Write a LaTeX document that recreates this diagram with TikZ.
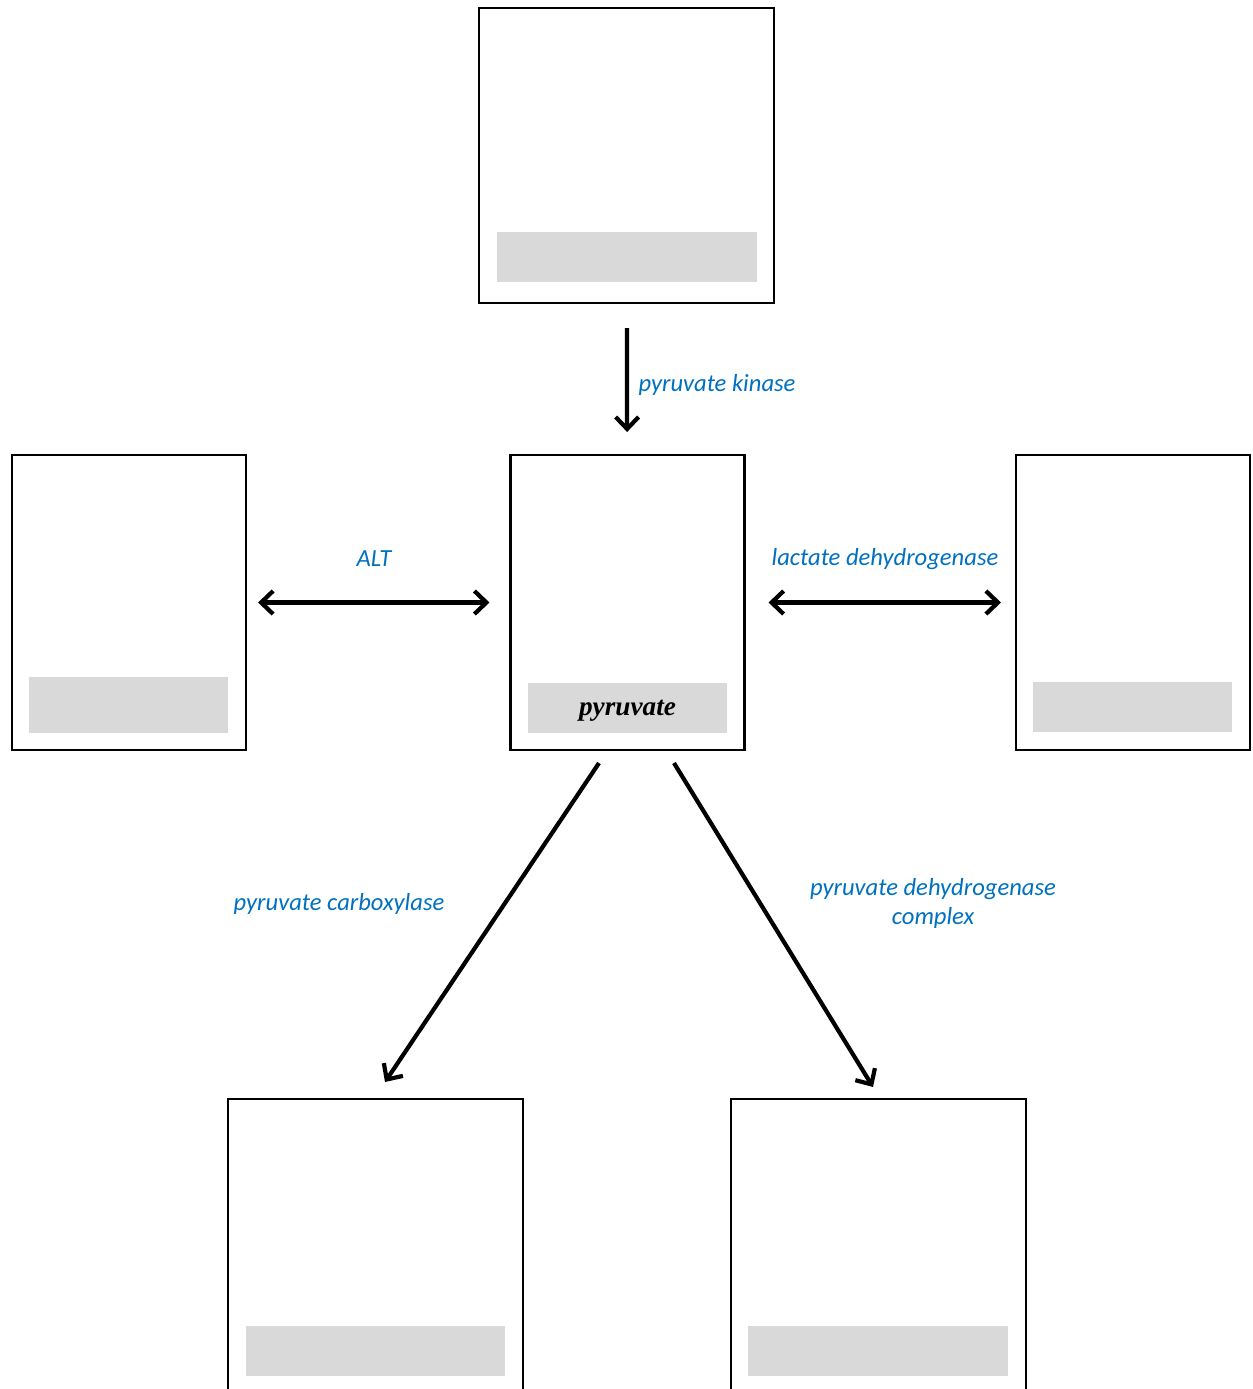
\documentclass[tikz,border=0pt]{standalone}
\usepackage{fontspec}
\setmainfont{Liberation Serif}
\newfontfamily\labelfont{Carlito}
\usetikzlibrary{arrows.meta, positioning}
\definecolor{enzblue}{RGB}{0, 112, 192}
\definecolor{bargrey}{RGB}{217, 217, 217}

\begin{document}
\begin{tikzpicture}[x=0.02cm, y=-0.02cm,
    cmpd/.style={draw, line width=1.2pt, inner sep=0pt, minimum width=5.9cm, minimum height=5.9cm},
    sidecmpd/.style={cmpd, minimum width=4.68cm},
    namebar/.style={fill=bargrey, inner sep=0pt, minimum width=5.2cm, minimum height=1cm},
    smallbar/.style={namebar, minimum width=3.98cm},
    conv/.style={line width=2.4pt, -{Straight Barb[length=2.4mm, width=4.6mm, line width=2.4pt]}},
    revconv/.style={conv, {Straight Barb[length=2.4mm, width=4.6mm, line width=2.4pt]}-{Straight Barb[length=2.4mm, width=4.6mm, line width=2.4pt]}},
    enzyme/.style={text=enzblue, font=\labelfont\itshape\fontsize{14}{16.5}\selectfont, align=center}]
    \clip (0,0) rectangle (1253,1389);
    \useasboundingbox (0,0) rectangle (1253,1389);
    % compound boxes
    \node[cmpd] (pep) at (626.5,155.5) {};
    \node[sidecmpd] (ala) at (129,602.5) {};
    \node[sidecmpd] (pyr) at (627.5,602.5) {};
    \node[sidecmpd] (lac) at (1133,602.5) {};
    \node[cmpd] (oaa) at (375.5,1246.5) {};
    \node[cmpd] (acoa) at (878.5,1246.5) {};
    % name bars
    \node[namebar] (pepname) at (627,257) {};
    \node[smallbar, minimum height=1.12cm] (alaname) at (128.5,705) {};
    \node[smallbar, text height=11pt, text depth=2pt, font=\fontsize{15.5}{18}\selectfont\bfseries\itshape] (pyrname) at (627.5,708) {pyruvate};
    \node[smallbar] (lacname) at (1132.5,707) {};
    \node[namebar] (oaaname) at (375.5,1351) {};
    \node[namebar] (acoaname) at (878,1351) {};
    % reactions
    \draw[conv, shorten <=0.48cm, shorten >=0.44cm] (pep) -- (pyr);
    \draw[revconv, shorten <=0.22cm, shorten >=0.4cm] (ala) -- (pyr);
    \draw[revconv, shorten <=0.46cm, shorten >=0.28cm] (pyr) -- (lac);
    \draw[conv] ([xshift=-0.57cm, yshift=-0.24cm]pyr.south) -- ([xshift=0.19cm, yshift=0.32cm]oaa.north);
    \draw[conv] ([xshift=0.93cm, yshift=-0.24cm]pyr.south) -- ([xshift=-0.11cm, yshift=0.22cm]acoa.north);
    % enzyme labels
    \node[enzyme] (pk) at (717,385) {pyruvate kinase};
    \node[enzyme] (alt) at (374,559) {ALT};
    \node[enzyme] (ldh) at (885,559) {lactate dehydrogenase};
    \node[enzyme] (pc) at (339,904) {pyruvate carboxylase};
    \node[enzyme] (pdh) at (933,903.5) {pyruvate dehydrogenase\\complex};
\end{tikzpicture}
\end{document}
